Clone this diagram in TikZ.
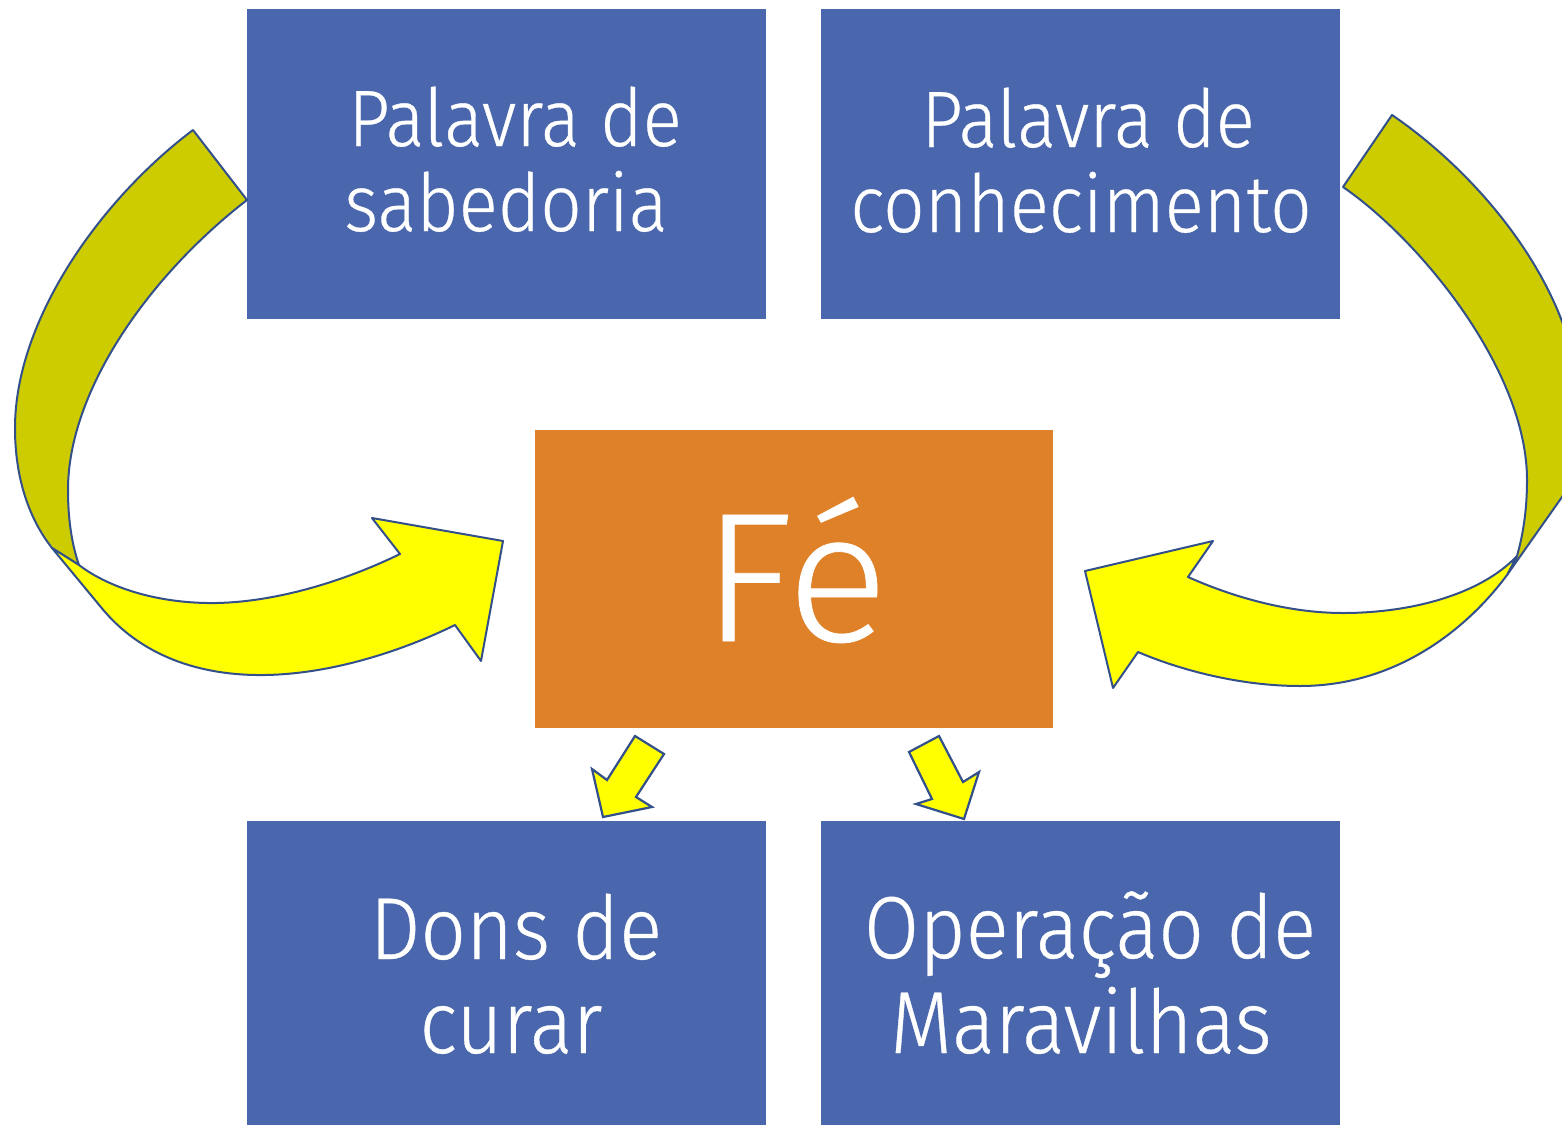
\documentclass[tikz,border=0pt]{standalone}
\usepackage{fontspec}
\setmainfont{Fira Sans Light}[FakeStretch=0.91, FakeBold=0.4]
\newfontfamily\fefont{Fira Sans Light}[FakeStretch=1.03, FakeBold=0.4]
\definecolor{boxblue}{HTML}{4A66AC}
\definecolor{boxorange}{HTML}{DF8128}
\definecolor{outl}{HTML}{33508A}
\definecolor{olivefill}{HTML}{CCCC00}
\definecolor{yelfill}{HTML}{FFFF00}
\tikzset{
  boxbase/.style={rectangle, draw=none, inner sep=0pt, outer sep=0pt},
  bluebox/.style={boxbase, fill=boxblue, minimum width=519pt, minimum height=310pt},
  orangebox/.style={boxbase, fill=boxorange, minimum width=518pt, minimum height=298pt},
  txt/.style={text=white, inner sep=0pt, outer sep=0pt, anchor=base},
  toptxt/.style={txt, font=\fontsize{80}{85}\selectfont},
  bottxt/.style={txt, font=\fontsize{88}{94}\selectfont},
  fetxt/.style={txt, font=\fefont\fontsize{184}{190}\selectfont},
  backband/.style={fill=olivefill, draw=outl, line width=2pt, line join=round},
  frontband/.style={fill=yelfill, draw=outl, line width=2pt, line join=round},
  smallarrow/.style={fill=yelfill, draw=outl, line width=2.2pt, line join=miter},
}
\begin{document}
\begin{tikzpicture}[x=1pt, y=-1pt]
\useasboundingbox (0,0) rectangle (1562,1124);
\clip (0,0) rectangle (1562,1124);
\fill[white] (0,0) rectangle (1562,1124);

% boxes
\node[bluebox] (sab) at (506.5,164) {};
\node[bluebox] (con) at (1080.5,164) {};
\node[orangebox] (fe) at (794,578.5) {};
\node[bluebox] (dons) at (506.5,975.5) {};
\node[bluebox] (oper) at (1080.5,975.5) {};

% texts
\node[toptxt] (sab1) at (515,146) {Palavra de};
\node[toptxt] (sab2) at (506,231) {sabedoria};
\node[toptxt] (con1) at (1088,147) {Palavra de};
\node[toptxt] (con2) at (1081,232) {conhecimento};
\node[fetxt] (fetext) at (795,641) {Fé};
\node[bottxt] (dons1) at (516,959) {Dons de};
\node[bottxt] (dons2) at (511,1053) {curar};
\node[bottxt] (oper1) at (1090,958) {Operação de};
\node[bottxt] (oper2) at (1081,1053) {Maravilhas};

% left curved arrow: back (dark) part
\filldraw[backband]
  (193,130) .. controls (100,200) and (15,320) .. (15,428)
  .. controls (15,480) and (30,520) .. (52,548)
  -- (79,565)
  .. controls (72,545) and (68,520) .. (68,490)
  .. controls (68,390) and (150,275) .. (247,200)
  -- cycle;
% left curved arrow: front (yellow) part with head
\filldraw[frontband]
  (52,548) -- (100,606)
  .. controls (140,656) and (200,676) .. (265,675)
  .. controls (330,674) and (400,652) .. (455,625)
  -- (481,661) -- (503,541) -- (372,518) -- (400,554)
  .. controls (330,588) and (260,604) .. (207,603)
  .. controls (150,602) and (105,585) .. (79,565)
  -- cycle;

% right curved arrow: back (dark) part
\filldraw[backband]
  (1392,115) .. controls (1480,175) and (1578,290) .. (1580,410)
  .. controls (1581,450) and (1575,475) .. (1562,497)
  -- (1507,575) -- (1517,556)
  .. controls (1523,535) and (1527,510) .. (1527,480)
  .. controls (1527,370) and (1420,240) .. (1343,187)
  -- cycle;
% right curved arrow: front (yellow) part with head
\filldraw[frontband]
  (1517,556) .. controls (1480,595) and (1410,613) .. (1343,613)
  .. controls (1290,613) and (1235,598) .. (1188,577)
  -- (1213,541) -- (1085,571) -- (1113,688) -- (1138,652)
  .. controls (1180,670) and (1240,686) .. (1300,686)
  .. controls (1400,686) and (1470,625) .. (1507,575)
  -- cycle;

% small arrows from Fé
\filldraw[smallarrow] (635,736) -- (664,754) -- (636,797) -- (652,807) -- (603,817) -- (592,769) -- (607,780) -- cycle;
\filldraw[smallarrow] (909,752) -- (939,736) -- (963,782) -- (979,772) -- (964,819) -- (916,804) -- (932,799) -- cycle;
\end{tikzpicture}
\end{document}
